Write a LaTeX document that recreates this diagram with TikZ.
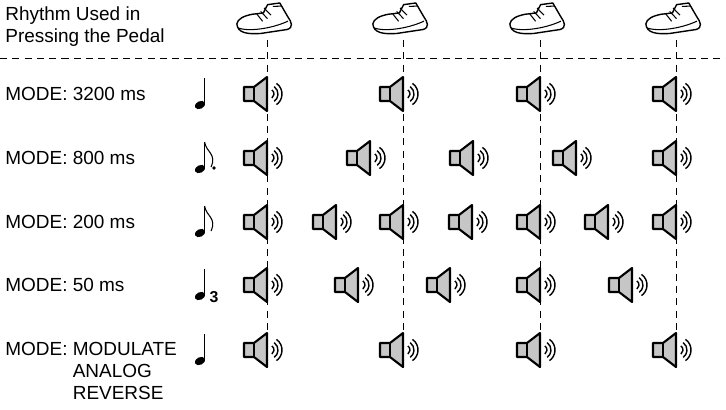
\documentclass[tikz,border=0pt]{standalone}
\usepackage{fontspec}
\setmainfont{Liberation Sans}
\begin{document}
\begin{tikzpicture}[x=0.02cm, y=-0.02cm, line join=round,
    label/.style={anchor=west, font=\fontsize{10.8}{12.5}\selectfont, align=left, inner sep=0pt},
    guide/.style={dashed, dash pattern=on 4pt off 3pt, thin},
    spk/.pic={
      \draw[very thick, fill=gray!45] (-23,-7) -- (-13,-7) -- (0,-17) -- (0,17) -- (-13,7) -- (-23,7) -- cycle;
      \draw[very thick] (-13,-7) -- (-13,7);
      \foreach \r in {5,9,13} \draw[thick] (2,0) ++(-55:\r) arc (-55:55:\r);
    },
    shoe/.pic={
      \begin{scope}[rotate=18, scale=1.1]
      \draw[thick, fill=white] (-24,-6) .. controls (-26,2) and (-18,6) .. (-6,9)
        -- (18,13) .. controls (24,13) and (24,8) .. (22,2)
        -- (19,-12) -- (8,-14) -- (2,-8) -- (-8,-10) .. controls (-16,-11) and (-22,-10) .. (-24,-6) -- cycle;
      \draw[semithick] (-24,-2) .. controls (-16,4) and (4,8) .. (21,6);
      \draw[semithick] (-4,-9) -- (-1,-1) (0,-10) -- (4,-2) (4,-12) -- (8,-4) (12,-11) -- (19,-9);
      \end{scope}
    },
    quarter/.pic={
      \fill[rotate=25] (0,0) ellipse (5.5 and 3.8);
      \draw[semithick] (4.6,-1) -- (4.6,-27);
    },
    flag/.pic={
      \draw[semithick] (4.6,-27) .. controls (6,-17) and (17,-15) .. (11,-2);
    }]
  \useasboundingbox (0,0) rectangle (726,409);
  % header
  \node[label] (head) at (5,27) {Rhythm Used in\\Pressing the Pedal};
  \draw[guide] (0,58) -- (726,58);
  % beat positions
  \foreach \b/\x in {1/267,2/403,3/540,4/676} {
    \coordinate (top\b) at (\x,40);
    \coordinate (bot\b) at (\x,372);
    \draw[guide] (top\b) -- (bot\b);
    \pic at (\x-3,22) {shoe};
  }
  % mode labels
  \node[label] (m1) at (5,94) {MODE: 3200 ms};
  \node[label] (m2) at (5,158) {MODE: 800 ms};
  \node[label] (m3) at (5,222) {MODE: 200 ms};
  \node[label] (m4) at (5,285) {MODE: 50 ms};
  \node[label, anchor=north west] (m5) at (5,342) {MODE: MODULATE\\\hphantom{MODE: }ANALOG\\\hphantom{MODE: }REVERSE};
  % notes
  \pic at (200,105) {quarter};
  \pic at (200,169) {quarter};
  \pic at (200,169) {flag};
  \fill (214,168) circle (1.8);
  \pic at (200,233) {quarter};
  \pic at (200,233) {flag};
  \pic at (200,296) {quarter};
  \node[font=\bfseries\small, inner sep=0pt] (three) at (214,297) {3};
  \pic at (200,361) {quarter};
  % speakers
  \foreach \x in {267,403,540,676} {
    \pic at (\x,94) {spk};
    \pic at (\x,350) {spk};
  }
  \foreach \x in {267,370,473,576,676} \pic at (\x,158) {spk};
  \foreach \x in {267,336,403,472,540,608,676} \pic at (\x,222) {spk};
  \foreach \x in {267,358,450,540,632} \pic at (\x,285) {spk};
\end{tikzpicture}
\end{document}
